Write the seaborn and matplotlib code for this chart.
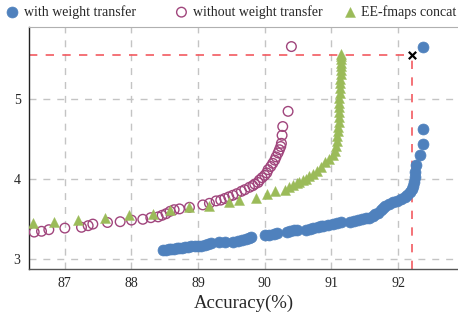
#!/usr/bin/env python3
"""Accuracy vs. cost scatter: weight transfer vs. no transfer vs. EE-fmaps concat."""

import matplotlib

matplotlib.use("Agg")

import matplotlib.pyplot as plt
import pandas as pd
import seaborn as sns

# with weight transfer
with_acc = [
    88.48, 88.52, 88.56, 88.60, 88.64, 88.68, 88.72, 88.76, 88.80, 88.85,
    88.90, 88.95, 89.00, 89.05, 89.10, 89.15, 89.20, 89.32, 89.40, 89.52,
    89.60, 89.66, 89.72, 89.76, 89.80, 90.00, 90.06, 90.14, 90.18, 90.33,
    90.38, 90.44, 90.48, 90.62, 90.68, 90.72, 90.80, 90.84, 90.88, 90.95,
    91.02, 91.08, 91.14, 91.28, 91.34, 91.40, 91.46, 91.52, 91.57, 91.62,
    91.66, 91.70, 91.74, 91.77, 91.80, 91.86, 91.92, 91.98, 92.04, 92.10,
    92.14, 92.18, 92.21, 92.23, 92.24, 92.25, 92.26, 92.27, 92.33, 92.37,
    92.37, 92.37,
]
with_val = [
    3.12, 3.12, 3.13, 3.13, 3.13, 3.14, 3.14, 3.14, 3.15, 3.15,
    3.16, 3.16, 3.17, 3.17, 3.18, 3.19, 3.20, 3.21, 3.22, 3.22,
    3.23, 3.24, 3.25, 3.26, 3.28, 3.30, 3.30, 3.32, 3.33, 3.34,
    3.35, 3.36, 3.36, 3.37, 3.38, 3.39, 3.40, 3.41, 3.42, 3.43,
    3.44, 3.45, 3.46, 3.47, 3.48, 3.49, 3.50, 3.51, 3.52, 3.54,
    3.56, 3.58, 3.62, 3.64, 3.66, 3.69, 3.71, 3.73, 3.75, 3.78,
    3.80, 3.84, 3.88, 3.92, 3.97, 4.03, 4.09, 4.18, 4.30, 4.44,
    4.63, 5.66,
]

# without weight transfer
without_acc = [
    86.54, 86.65, 86.76, 87.00, 87.25, 87.35, 87.42, 87.64, 87.83, 88.00,
    88.17, 88.29, 88.40, 88.46, 88.52, 88.58, 88.64, 88.72, 88.87, 89.07,
    89.17, 89.27, 89.34, 89.40, 89.46, 89.52, 89.58, 89.65, 89.70, 89.77,
    89.82, 89.85, 89.90, 89.92, 89.96, 90.00, 90.03, 90.05, 90.09, 90.12,
    90.15, 90.17, 90.20, 90.22, 90.24, 90.25, 90.26, 90.27, 90.35, 90.40,
]
without_val = [
    3.34, 3.35, 3.37, 3.39, 3.40, 3.42, 3.44, 3.46, 3.47, 3.49,
    3.50, 3.52, 3.53, 3.55, 3.57, 3.60, 3.62, 3.63, 3.65, 3.68,
    3.70, 3.73, 3.74, 3.76, 3.78, 3.80, 3.82, 3.85, 3.87, 3.90,
    3.92, 3.94, 3.96, 3.99, 4.02, 4.05, 4.08, 4.12, 4.16, 4.20,
    4.24, 4.28, 4.33, 4.37, 4.41, 4.45, 4.55, 4.66, 4.85, 5.66,
]

# EE-fmaps concat
concat_acc = [
    86.52, 86.83, 87.20, 87.60, 87.96, 88.32, 88.58, 88.86, 89.17, 89.47,
    89.61, 89.87, 90.03, 90.16, 90.30, 90.36, 90.42, 90.48, 90.52, 90.57,
    90.62, 90.67, 90.72, 90.78, 90.84, 90.90, 90.96, 91.02, 91.05, 91.07,
    91.08, 91.09, 91.10, 91.10, 91.11, 91.11, 91.11, 91.12, 91.12, 91.12,
    91.13, 91.13, 91.13, 91.13, 91.14, 91.14, 91.14, 91.14, 91.15, 91.15,
    91.15,
]
concat_val = [
    3.45, 3.47, 3.49, 3.52, 3.55, 3.57, 3.61, 3.65, 3.67, 3.71,
    3.74, 3.77, 3.82, 3.85, 3.87, 3.90, 3.93, 3.95, 3.97, 3.99,
    4.01, 4.04, 4.07, 4.11, 4.16, 4.22, 4.26, 4.30, 4.36, 4.42,
    4.48, 4.54, 4.60, 4.66, 4.72, 4.78, 4.84, 4.90, 4.96, 5.02,
    5.08, 5.14, 5.20, 5.26, 5.32, 5.37, 5.42, 5.46, 5.50, 5.54,
    5.57,
]

target_acc = 92.21
target_val = 5.55

x_ticks = [87, 88, 89, 90, 91, 92]
y_ticks = [3, 4, 5]
xlim = (86.46, 92.9)
ylim = (2.88, 5.9)

BLUE = "#4f81bd"
PLUM = "#a0457c"
GREEN = "#9bbb59"
RED = "#f25a60"

sns.set_style("white")
plt.rcParams["font.family"] = ["Liberation Serif", "DejaVu Serif"]

fig = plt.figure(figsize=(4.58, 3.22), dpi=100)
ax = fig.add_axes([0.063, 0.165, 0.937, 0.75])

ax.grid(True, ls=(0, (5, 5)), color="#c4c4c4", lw=1.0)
ax.set_axisbelow(True)

ax.hlines(target_val, xlim[0], target_acc, colors=RED, linestyles=(0, (5, 5)), lw=1.2, zorder=2)
ax.vlines(target_acc, ylim[0], target_val, colors=RED, linestyles=(0, (5, 5)), lw=1.2, zorder=2)

sns.scatterplot(
    data=pd.DataFrame({"acc": with_acc, "val": with_val}), x="acc", y="val", ax=ax,
    marker="o", s=62, color=BLUE, edgecolor=BLUE, linewidth=0.5,
    label="with weight transfer", legend=False, zorder=3,
)
sns.scatterplot(
    data=pd.DataFrame({"acc": without_acc, "val": without_val}), x="acc", y="val", ax=ax,
    marker="o", s=48, facecolor="none", edgecolor=PLUM, linewidth=1.0,
    label="without weight transfer", legend=False, zorder=3,
)
sns.scatterplot(
    data=pd.DataFrame({"acc": concat_acc, "val": concat_val}), x="acc", y="val", ax=ax,
    marker="^", s=52, color=GREEN, edgecolor=GREEN, linewidth=0.3,
    label="EE-fmaps concat", legend=False, zorder=3,
)
ax.scatter([target_acc], [target_val], marker="x", s=28, color="black", linewidths=1.6, zorder=4)

ax.set_xlim(*xlim)
ax.set_ylim(*ylim)
ax.set_xticks(x_ticks)
ax.set_yticks(y_ticks)
ax.tick_params(length=0, labelsize=10, pad=6)
ax.set_xlabel("Accuracy(%)", fontsize=13.5, labelpad=3)
ax.set_ylabel("")

ax.spines["right"].set_visible(False)
ax.spines["top"].set_color("#b0b0b0")
ax.spines["top"].set_linewidth(0.8)
ax.spines["left"].set_color("#222222")
ax.spines["left"].set_linewidth(1.0)
ax.spines["bottom"].set_color("#555555")
ax.spines["bottom"].set_linewidth(1.0)

# legend above the plot: three fixed-position entries
handles, labels = ax.get_legend_handles_labels()
for h, lab, left in zip(handles, labels, [0.012, 0.381, 0.748]):
    fig.legend(
        [h], [lab], loc="center left", bbox_to_anchor=(left, 0.963), frameon=False,
        fontsize=10, handlelength=1.0, handletextpad=0.3, borderpad=0, borderaxespad=0,
    )

fig.savefig("out.png", dpi=100)
plt.close(fig)
